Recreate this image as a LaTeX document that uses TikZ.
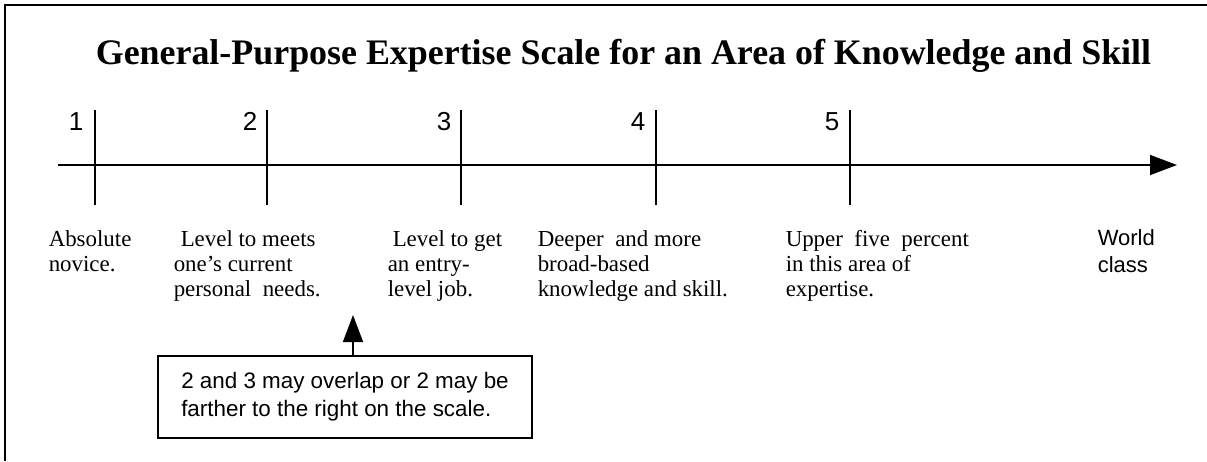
\documentclass[tikz,border=0pt]{standalone}
\usepackage{fontspec}
\setmainfont{Liberation Serif}
\setsansfont{Liberation Sans}
\usetikzlibrary{arrows.meta}

\tikzset{
  num/.style={anchor=base east,inner sep=0,font=\sffamily\fontsize{26}{28}\selectfont},
  lab/.style={anchor=base west,align=left,inner sep=0,font=\fontsize{22.9}{25}\selectfont},
  notebox/.style={draw,line width=2,minimum width=374,minimum height=82,align=left,
    font=\sffamily\fontsize{22.4}{28}\selectfont},
  tip/.style={-{Triangle[length=27pt,width=20pt]}}
}

\begin{document}
\begin{tikzpicture}[x=1pt,y=-1pt,line width=1.5]
  \useasboundingbox (0,0) rectangle (1207,461);
    \draw[line width=2.5] (5,461)--(5,5)--(1207,5);
  \node (title) at (623.5,64)[anchor=base]{\fontsize{35.9}{40}\selectfont\bfseries
     General-Purpose Expertise Scale for an Area of Knowledge and Skill};

      \coordinate (O) at (58,165);
        \coordinate (X) at (1177,165);
          \coordinate (A) at (95,110);
            \coordinate (B) at (267,110);
              \coordinate (C) at (461,110);
                \coordinate (D) at (656,110);
                  \coordinate (E) at (850,110);
          \coordinate (A1) at (95,205);
            \coordinate (B1) at (267,205);
              \coordinate (C1) at (461,205);
                \coordinate (D1) at (656,205);
                  \coordinate (E1) at (850,205);
       \node (n1) at (84,130)[num]{1};
         \node (n2) at (258,130)[num]{2};
            \node (n3) at (452,130)[num]{3};
               \node (n4) at (646,130)[num]{4};
             \node (n5) at (840,130)[num]{5};

  \draw (A)--(A1)(B)--(B1)(C)--(C1)(D)--(D1)(E)--(E1);
  \draw[tip] (O)--(X);

  % labels: anchored at the baseline of their last line
  \node (L1) at (48,271)[lab]{Absolute\\novice.};
  \node (L2) at (173,296)[lab]{\hspace*{7pt}Level to meets\\one's current\\personal\ \ needs.};
  \node (L3) at (387,296)[lab]{\hspace*{5pt}Level to get\\an entry-\\level job.};
  \node (L4) at (537,296)[lab]{Deeper\ \ and more\\broad-based\\knowledge and skill.};
  \node (L5) at (785,296)[lab]{Upper\ \ five\ \ percent\\in this area of\\expertise.};
  \node (L6) at (1097,272)[lab,font=\sffamily\fontsize{22}{27}\selectfont]{World\\class};

  \node (note) at (345,397)[notebox]{2 and 3 may overlap or 2 may be\\farther to the right on the scale.};
  \coordinate (P) at (353,315);
  \draw[tip] (note.north -| P)--(P);
\end{tikzpicture}
\end{document}
